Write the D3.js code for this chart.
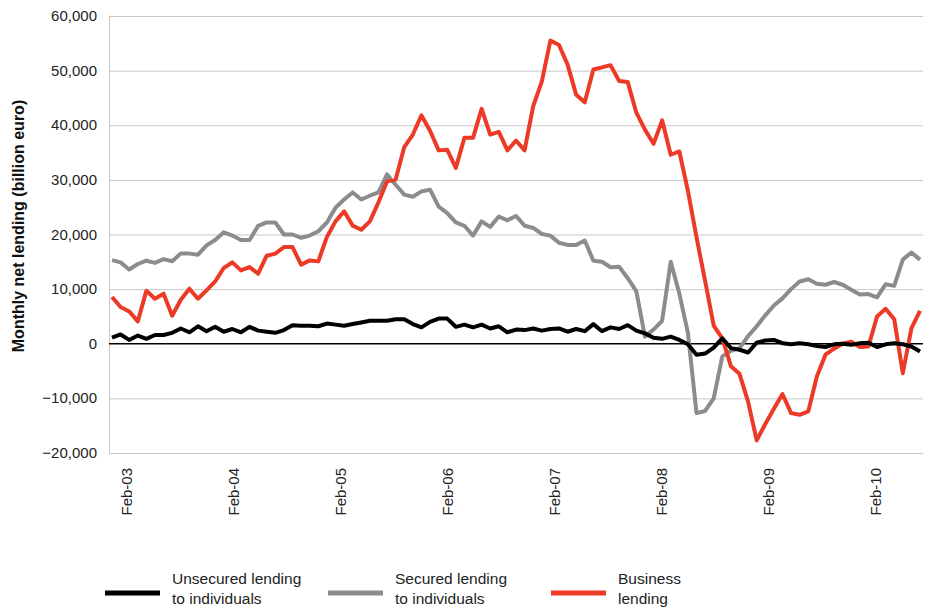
<!DOCTYPE html>
<html>
<head>
<meta charset="utf-8">
<script src="https://cdn.jsdelivr.net/npm/d3@7"></script>
<style>
  body { margin: 0; background: #fff; }
  text { font-family: "Liberation Sans", Arial, Helvetica, sans-serif; }
</style>
</head>
<body>
<div id="chart"></div>
<script>
// monthly net lending (one value per period)
var unsecured = [1100, 1700, 700, 1500, 900, 1600, 1600, 2000, 2800, 2100, 3200, 2300, 3100, 2200, 2700, 2100, 3100, 2400, 2200, 2000,
  2500, 3400, 3300, 3300, 3200, 3700, 3500, 3300, 3600, 3900, 4200, 4200, 4200, 4500, 4500, 3600, 3000, 4000, 4600, 4600,
  3100, 3500, 3000, 3500, 2800, 3200, 2100, 2600, 2500, 2800, 2400, 2700, 2800, 2200, 2700, 2300, 3600, 2300, 3000, 2700,
  3400, 2400, 1900, 1100, 900, 1300, 700, -100, -2000, -1800, -700, 1000, -800, -1100, -1600, 200, 600, 700, 100, -100,
  100, -100, -400, -600, -100, 0, -200, 100, 200, -600, -100, 100, -100, -500, -1400];

var secured = [15300, 14900, 13600, 14600, 15200, 14800, 15500, 15100, 16500, 16500, 16300, 18000, 19000, 20400, 19800, 19000, 19000, 21600, 22200, 22200,
  20000, 20000, 19400, 19800, 20600, 22200, 24900, 26400, 27700, 26400, 27100, 27700, 31000, 29100, 27300, 26900, 27900, 28200, 25100, 23900,
  22200, 21600, 19800, 22400, 21400, 23300, 22600, 23400, 21600, 21200, 20100, 19800, 18500, 18100, 18100, 18900, 15200, 15000, 14000, 14100,
  12000, 9600, 1300, 2600, 4200, 15000, 9200, 2000, -12700, -12300, -10000, -2300, -1300, -800, 1400, 3200, 5200, 7000, 8300, 10000,
  11400, 11800, 11000, 10800, 11300, 10800, 9900, 9000, 9100, 8500, 10900, 10600, 15400, 16700, 15400];

var business = [8550, 6720, 5920, 4090, 9710, 8240, 9160, 5130, 8060, 10080, 8240, 9770, 11400, 13860, 14900, 13430, 14040, 12820, 16120, 16500,
  17700, 17700, 14470, 15260, 15080, 19550, 22400, 24240, 21620, 20880, 22400, 25890, 29730, 30050, 36000, 38300, 41800, 39000, 35400, 35500,
  32200, 37700, 37700, 43000, 38300, 38800, 35400, 37200, 35400, 43500, 48000, 55500, 54700, 51100, 45600, 44200, 50200, 50600, 51000, 48100,
  47900, 42300, 39200, 36600, 40900, 34600, 35200, 28000, 19500, 11500, 3300, 1000, -4100, -5500, -10600, -17700, -14700, -11900, -9200, -12700,
  -13000, -12400, -6000, -2000, -900, 0, 400, -600, -500, 5000, 6400, 4500, -5400, 2800, 6000];

var tickLabels = ["Feb-03", "Feb-04", "Feb-05", "Feb-06", "Feb-07", "Feb-08", "Feb-09", "Feb-10"];
var tickIndex = [1.75, 14.2, 26.65, 39.1, 51.55, 64.0, 76.45, 88.9];
var yTicks = [-20000, -10000, 0, 10000, 20000, 30000, 40000, 50000, 60000];

var seriesNames = [["Unsecured lending", "to individuals"], ["Secured lending", "to individuals"], ["Business", "lending"]];
var seriesData = [unsecured, secured, business];
var colors = ["#000000", "#8c8c8e", "#ec3a26"];

var width = 930, height = 610;
var plotLeft = 109, plotRight = 923;

var svg = d3.select("#chart").append("svg")
    .attr("width", width)
    .attr("height", height);

var x = d3.scaleLinear()
    .domain([0, unsecured.length - 1])
    .range([112, 920]);

var y = d3.scaleLinear()
    .domain([-20000, 60000])
    .range([453, 16]);

// grid lines
svg.append("g")
    .selectAll("line")
    .data(yTicks.filter(d => d !== 0))
    .enter()
    .append("line")
    .attr("x1", plotLeft)
    .attr("x2", plotRight)
    .attr("y1", d => y(d) + 0.5)
    .attr("y2", d => y(d) + 0.5)
    .attr("stroke", "#c8c8c8")
    .attr("stroke-width", 1);

// left axis
svg.append("line")
    .attr("x1", plotLeft + 0.5).attr("x2", plotLeft + 0.5)
    .attr("y1", y(60000)).attr("y2", y(-20000) + 1)
    .attr("stroke", "#c8c8c8");

// y labels
var fmt = d3.format(",");
svg.append("g")
    .selectAll("text")
    .data(yTicks)
    .enter()
    .append("text")
    .attr("x", 97)
    .attr("y", d => y(d) + 5)
    .attr("text-anchor", "end")
    .attr("font-size", 15)
    .attr("fill", "#222")
    .text(d => fmt(d));

// axis title
svg.append("text")
    .attr("transform", "translate(24,226) rotate(-90)")
    .attr("text-anchor", "middle")
    .attr("font-size", 16)
    .attr("font-weight", "bold")
    .attr("fill", "#111")
    .text("Monthly net lending (billion euro)");

// x labels
svg.append("g")
    .selectAll("text")
    .data(tickLabels)
    .enter()
    .append("text")
    .attr("transform", (d, i) => "translate(" + (x(tickIndex[i]) + 5) + ",468) rotate(-90)")
    .attr("text-anchor", "end")
    .attr("font-size", 15)
    .attr("fill", "#222")
    .text(d => d);

// zero line
svg.append("line")
    .attr("x1", plotLeft).attr("x2", plotRight)
    .attr("y1", y(0)).attr("y2", y(0))
    .attr("stroke", "#000")
    .attr("stroke-width", 1.3);

// series
var line = d3.line()
    .x((d, i) => x(i))
    .y(d => y(d));

var drawOrder = [1, 2, 0];
drawOrder.forEach(function (k) {
    svg.append("path")
        .datum(seriesData[k])
        .attr("fill", "none")
        .attr("stroke", colors[k])
        .attr("stroke-width", 4)
        .attr("stroke-linejoin", "round")
        .attr("d", line);
});

// legend
var legend = svg.append("g")
    .selectAll("g")
    .data(seriesNames)
    .enter()
    .append("g")
    .attr("transform", (d, i) => "translate(" + (105 + i * 223) + ",593)");

legend.append("line")
    .attr("x1", 0).attr("x2", 55)
    .attr("stroke", (d, i) => colors[i])
    .attr("stroke-width", 5);

legend.append("text")
    .attr("x", 67)
    .attr("y", -9)
    .attr("font-size", 15.5)
    .attr("fill", "#222")
    .selectAll("tspan")
    .data(d => d)
    .enter()
    .append("tspan")
    .attr("x", 67)
    .attr("dy", (d, i) => i === 0 ? 0 : 20)
    .text(d => d);
</script>
</body>
</html>
